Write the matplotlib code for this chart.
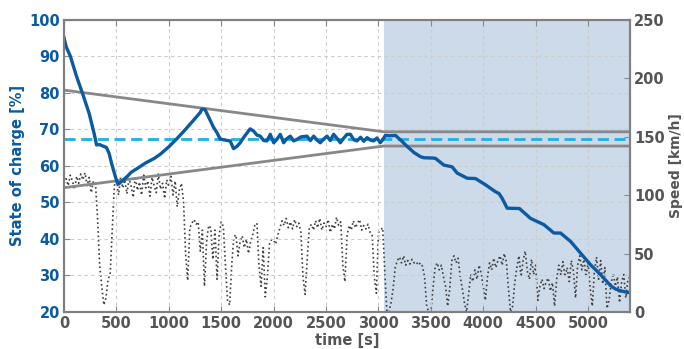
import matplotlib
matplotlib.use("Agg")
import matplotlib.pyplot as plt
import numpy as np

# state of charge trace [%]
soc_time = [0, 20, 60, 120, 180, 240, 290, 310, 340, 370, 405, 430, 455, 485, 510, 520,
            560, 600, 640, 700, 780, 860, 920, 1000, 1080, 1160, 1240, 1300, 1315, 1345,
            1380, 1425, 1460, 1490, 1540, 1585, 1617, 1650, 1681, 1720, 1776, 1808, 1840,
            1872, 1905, 1936, 1968, 2000, 2030, 2063, 2095, 2125, 2159, 2190, 2222, 2260,
            2318, 2350, 2382, 2415, 2445, 2480, 2509, 2540, 2572, 2605, 2636, 2670, 2700,
            2732, 2765, 2795, 2830, 2860, 2891, 2925, 2955, 2985, 3018, 3040, 3066, 3100,
            3162, 3220, 3273, 3340, 3400, 3432, 3527, 3545, 3623, 3703, 3751, 3846, 3926,
            4021, 4116, 4150, 4180, 4228, 4345, 4451, 4578, 4674, 4737, 4833, 4928, 5024,
            5120, 5215, 5260, 5310, 5406]
soc_value = [95.0, 92.6, 90.0, 84.4, 79.5, 74.3, 68.5, 65.7, 65.8, 65.4, 65.0, 63.4, 60.5,
             57.5, 55.2, 55.0, 56.0, 57.0, 58.2, 59.3, 60.8, 62.0, 63.2, 65.2, 67.5, 70.0,
             72.6, 74.6, 75.5, 75.4, 73.3, 70.6, 69.0, 67.3, 67.0, 66.8, 64.7, 65.3, 66.3,
             68.0, 70.1, 69.5, 68.4, 68.1, 66.9, 66.8, 68.6, 66.3, 67.2, 68.6, 66.3, 67.4,
             68.1, 66.8, 67.2, 67.9, 68.1, 66.9, 68.1, 67.0, 66.3, 67.4, 68.1, 66.9, 68.6,
             67.5, 66.3, 67.6, 68.6, 68.6, 67.1, 66.8, 67.8, 66.7, 67.7, 67.0, 66.8, 67.6,
             66.3, 67.1, 68.3, 68.2, 68.3, 66.8, 65.3, 63.6, 62.5, 62.2, 62.1, 62.0, 60.2,
             59.7, 58.0, 56.6, 56.5, 54.8, 52.9, 52.4, 51.1, 48.4, 48.3, 45.6, 43.9, 41.6,
             41.6, 39.3, 36.1, 32.9, 30.2, 27.2, 26.3, 25.8, 25.2]

# vehicle speed trace [km/h], one sample every 20 s from 0 to 5400 s
speed_time = list(range(0, 5401, 20))
speed_value = [
    110, 114, 108, 117, 112, 105, 116, 110, 118, 113,
    119, 108, 115, 102, 112, 110, 80, 40, 22, 6,
    12, 28, 32, 70, 108, 112, 100, 115, 106, 113,
    101, 114, 108, 98, 116, 104, 111, 100, 117, 106,
    112, 99, 115, 108, 102, 118, 105, 110, 97, 113,
    107, 116, 100, 112, 90, 104, 110, 95, 50, 27,
    72, 76, 79, 75, 77, 52, 70, 22, 60, 74,
    72, 45, 70, 28, 66, 77, 73, 40, 10, 6,
    40, 64, 66, 48, 60, 65, 55, 62, 50, 60,
    66, 74, 76, 40, 22, 55, 13, 30, 58, 62,
    61, 58, 66, 72, 78, 74, 80, 72, 77, 71,
    79, 73, 76, 68, 30, 15, 45, 72, 75, 70,
    78, 72, 80, 70, 76, 73, 79, 68, 75, 71,
    81, 74, 77, 40, 26, 65, 74, 70, 78, 72,
    76, 79, 70, 74, 71, 75, 68, 66, 30, 16,
    68, 70, 72, 35, 0, 0, 8, 20, 38, 44,
    47, 42, 48, 40, 44, 41, 45, 42, 43, 40,
    42, 39, 30, 5, 0, 0, 20, 38, 42, 36,
    40, 30, 22, 5, 20, 44, 48, 42, 46, 30,
    20, 8, 0, 15, 32, 26, 36, 28, 40, 33,
    22, 10, 30, 42, 36, 46, 38, 44, 48, 40,
    50, 43, 20, 0, 5, 25, 38, 48, 30, 44,
    52, 35, 28, 45, 32, 40, 10, 22, 28, 20,
    26, 29, 18, 25, 5, 28, 40, 32, 43, 30,
    38, 26, 44, 35, 12, 40, 48, 36, 45, 30,
    42, 20, 5, 35, 47, 28, 44, 24, 38, 3,
    10, 25, 33, 22, 30, 8, 26, 32, 12, 28,
    30,
]

# corridor limits and target
corridor_time = [0, 3050, 5400]
upper_limit = [80.7, 69.3, 69.3]
lower_limit = [54.0, 65.4, 65.4]
soc_target = 67.3
charge_sustain_start = 3050

BLUE = '#0b5aa2'
GREY_TXT = '#555555'

fig = plt.figure(figsize=(6.84, 3.49), dpi=100)
ax = fig.add_axes([0.0936, 0.106, 0.8275, 0.838])
ax2 = ax.twinx()

# speed axis sits below, SOC axis on top
ax.set_zorder(2)
ax.patch.set_visible(False)
ax2.set_zorder(1)
ax2.patch.set_visible(True)
ax2.patch.set_facecolor('white')

ax2.axvspan(charge_sustain_start, 5400, color='#ccdaea', zorder=0, lw=0)
ax2.plot(speed_time, speed_value, color='#3f3f3f', linestyle=':', linewidth=1.2)

ax.plot(corridor_time, upper_limit, color='#888888', linewidth=2)
ax.plot(corridor_time, lower_limit, color='#888888', linewidth=2)
ax.axhline(soc_target, color='#1fb0e6', linestyle='--', linewidth=2, dashes=(4, 2))
ax.plot(soc_time, soc_value, color=BLUE, linewidth=2.4)

ax.set_xlim(0, 5400)
ax.set_ylim(20, 100)
ax2.set_ylim(0, 250)
ax.set_xticks(np.arange(0, 5001, 500))
ax.set_yticks(np.arange(20, 101, 10))
ax2.set_yticks(np.arange(0, 251, 50))

ax.grid(True, linestyle=(0, (3, 3)), color='#cccccc', linewidth=0.8)

for lab in ax.get_yticklabels():
    lab.set_color(BLUE)
    lab.set_fontweight('bold')
    lab.set_fontsize(10.5)
for lab in ax.get_xticklabels():
    lab.set_color(GREY_TXT)
    lab.set_fontweight('bold')
    lab.set_fontsize(10.5)
for lab in ax2.get_yticklabels():
    lab.set_color(GREY_TXT)
    lab.set_fontweight('bold')
    lab.set_fontsize(10.5)

ax.tick_params(axis='both', direction='in', length=4, color='#888888', pad=3, top=True)
ax2.tick_params(axis='y', direction='in', length=4, color='#888888', pad=3)

ax.set_ylabel('State of charge [%]', color=BLUE, fontweight='bold', fontsize=10.5, labelpad=3)
ax2.set_ylabel('Speed [km/h]', color=GREY_TXT, fontweight='bold', fontsize=10, labelpad=3)
ax.set_xlabel('time [s]', color=GREY_TXT, fontweight='bold', fontsize=10.5, labelpad=1)

for a in (ax, ax2):
    for s in a.spines.values():
        s.set_color('#808080')
        s.set_linewidth(1.5)

plt.savefig('out.png', dpi=100, facecolor='white')
